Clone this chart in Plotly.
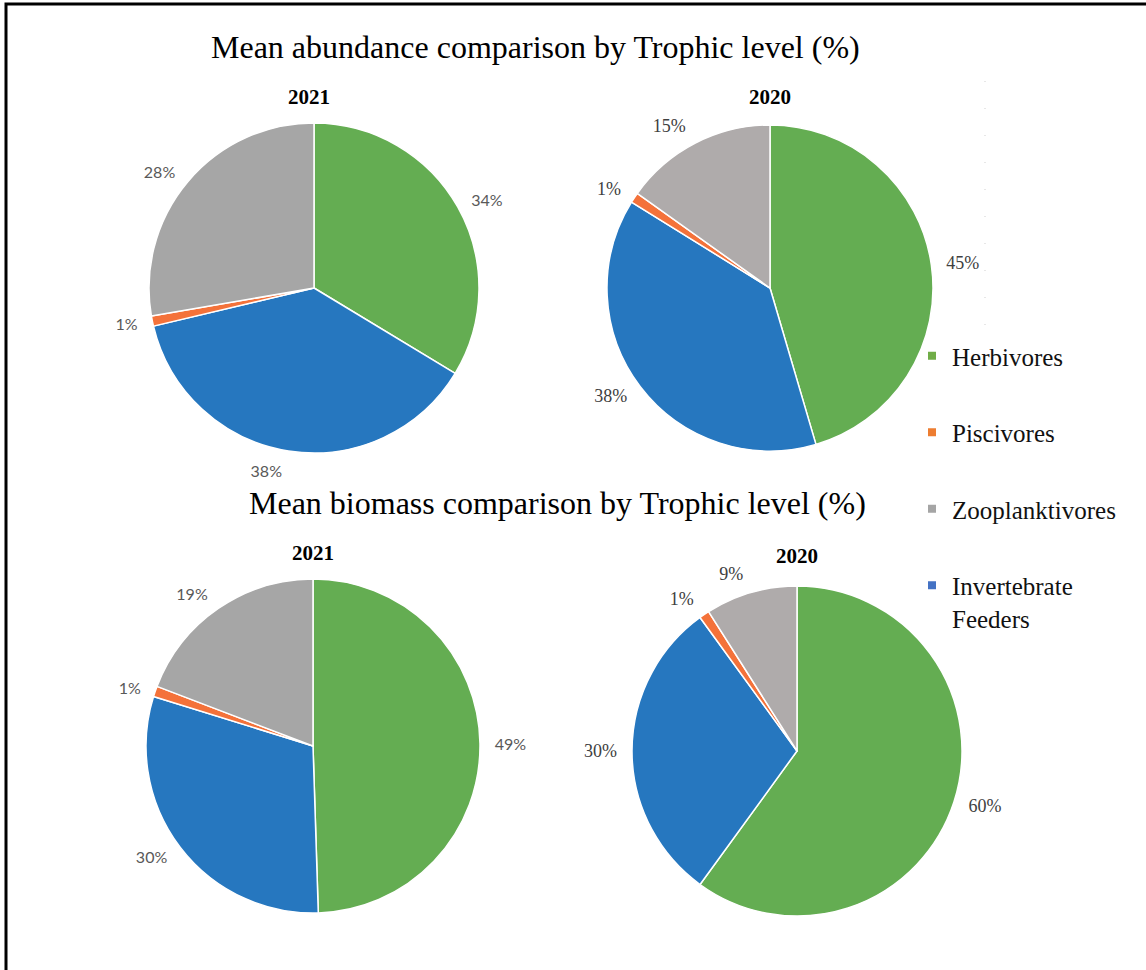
import plotly.graph_objects as go

W, H = 1146, 970

# Trophic groups (slice order, clockwise from 12 o'clock)
categories = ["Herbivores", "Invertebrate Feeders", "Piscivores", "Zooplanktivores"]

# Mean abundance (%)
abundance_2021 = [34, 38, 1, 28]
abundance_2020 = [45, 38, 1, 15]

# Mean biomass (%)
biomass_2021 = [49, 30, 1, 19]
biomass_2020 = [60, 30, 1, 9]

# Legend order and names
legend_order = ["Herbivores", "Piscivores", "Zooplanktivores", "Invertebrate Feeders"]
legend_names = ["Herbivores", "Piscivores", "Zooplanktivores", "Invertebrate<br>Feeders"]

GREEN, BLUE, ORANGE = "#64ad52", "#2677bf", "#f4723a"
GRAY_2021, GRAY_2020 = "#a6a6a6", "#afabab"
LEGEND_COLORS = {"Herbivores": "#70ad47", "Piscivores": "#ed7d31",
                 "Zooplanktivores": "#a5a5a5", "Invertebrate Feeders": "#4472c4"}

SERIF = "Liberation Serif"
SANS = "Lato"

LABEL_GAP = 10  # extra distance of the percentage labels from the pie rim


def domain(cx, cy, r):
    """Pixel centre/radius -> paper-fraction domain."""
    return dict(x=[(cx - r) / W, (cx + r) / W], y=[1 - (cy + r) / H, 1 - (cy - r) / H])


pies = [
    # values, centre x, centre y, radius, grey colour, label font
    (abundance_2021, 314, 288, 165, GRAY_2021, dict(family=SANS, size=16, color="#595959")),
    (abundance_2020, 770, 288, 163, GRAY_2020, dict(family=SERIF, size=18, color="#404040")),
    (biomass_2021, 313, 746, 167, GRAY_2021, dict(family=SANS, size=16, color="#595959")),
    (biomass_2020, 797, 751, 165, GRAY_2020, dict(family=SERIF, size=18, color="#404040")),
]

fig = go.Figure()

for values, cx, cy, r, gray, tfont in pies:
    # the coloured pie
    fig.add_trace(go.Pie(
        labels=categories,
        values=values,
        sort=False,
        direction="clockwise",
        rotation=0,
        marker=dict(colors=[GREEN, BLUE, ORANGE, gray], line=dict(color="white", width=1.5)),
        textinfo="none",
        domain=domain(cx, cy, r),
        showlegend=False,
        hoverinfo="label+value",
    ))
    # a transparent, slightly larger copy that carries the outside % labels
    fig.add_trace(go.Pie(
        labels=categories,
        values=values,
        sort=False,
        direction="clockwise",
        rotation=0,
        marker=dict(colors=["rgba(0,0,0,0)"] * len(values), line=dict(width=0)),
        texttemplate="%{value}%",
        textposition="outside",
        textfont=tfont,
        outsidetextfont=tfont,
        domain=domain(cx, cy, r + LABEL_GAP),
        showlegend=False,
        hoverinfo="skip",
    ))

# Legend entries with small square swatches
for name, label in zip(legend_order, legend_names):
    fig.add_trace(go.Scatter(
        x=[None], y=[None], mode="markers",
        marker=dict(symbol="square", size=8, color=LEGEND_COLORS[name]),
        name=label, legendgroup=name, showlegend=True,
    ))

annotations = [
    dict(text="Mean abundance comparison by Trophic level (%)", x=535, y=47, size=32, bold=False),
    dict(text="Mean biomass comparison by Trophic level (%)", x=557, y=503, size=32, bold=False),
    dict(text="2021", x=309, y=97, size=21, bold=True),
    dict(text="2020", x=770, y=97, size=21, bold=True),
    dict(text="2021", x=313, y=553, size=21, bold=True),
    dict(text="2020", x=797, y=556, size=21, bold=True),
]

fig.update_layout(
    width=W, height=H,
    margin=dict(l=0, r=0, t=0, b=0),
    paper_bgcolor="white", plot_bgcolor="white",
    xaxis=dict(visible=False), yaxis=dict(visible=False),
    legend=dict(
        x=912 / W, y=1 - 333 / H, xanchor="left", yanchor="top",
        font=dict(family=SERIF, size=25, color="#111111"),
        tracegroupgap=41, valign="top", bgcolor="rgba(0,0,0,0)",
    ),
    annotations=[
        dict(text=f"<b>{a['text']}</b>" if a["bold"] else a["text"],
             x=a["x"] / W, y=1 - a["y"] / H, xref="paper", yref="paper",
             xanchor="center", yanchor="middle", showarrow=False,
             font=dict(family=SERIF, size=a["size"], color="#000000"))
        for a in annotations
    ],
    shapes=[
        # frame along the top and left edges
        dict(type="path", xref="paper", yref="paper",
             path=f"M {6 / W} 0 L {6 / W} {1 - 4 / H} L 1 {1 - 4 / H}",
             line=dict(color="black", width=3)),
        # faint dotted guide right of the 2020 abundance pie
        dict(type="line", xref="paper", yref="paper",
             x0=985 / W, x1=985 / W, y0=1 - 81 / H, y1=1 - 330 / H,
             line=dict(color="#cfcfcf", width=1, dash="1px,26px")),
    ],
)

fig.write_html("out.html")
